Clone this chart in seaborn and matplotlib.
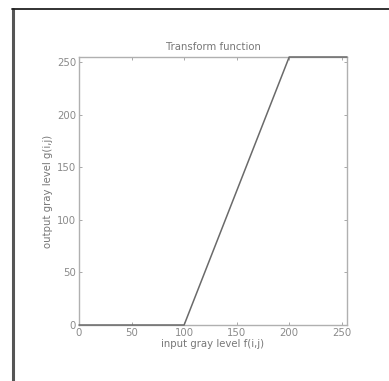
import matplotlib
matplotlib.use("Agg")
import matplotlib.pyplot as plt
from matplotlib.lines import Line2D
import seaborn as sns
import pandas as pd

input_level = [0, 100, 200, 255]
output_level = [0, 0, 255, 255]
ticks = [0, 50, 100, 150, 200, 250]

sns.set_theme(style="white")
plt.rcParams['font.family'] = ['DejaVu Sans']

W, H = 389, 381
fig = plt.figure(figsize=(W / 100, H / 100), dpi=100)
fig.patch.set_facecolor("white")
ax = fig.add_axes([79 / W, 1 - 325 / H, (347 - 79) / W, (325 - 57) / H])

df = pd.DataFrame({"x": input_level, "y": output_level})
sns.lineplot(data=df, x="x", y="y", ax=ax, color="#6a6a6a", linewidth=1.1)
for ln in ax.lines:
    ln.set_clip_on(False)
    ln.set_zorder(5)

ax.set_xlim(0, 255)
ax.set_ylim(0, 255)
ax.set_xticks(ticks)
ax.set_yticks(ticks)
ax.tick_params(direction="in", length=2, width=0.6, colors="#9a9a9a",
               labelsize=7.3, labelcolor="#8a8a8a", pad=2,
               top=True, right=True, bottom=True, left=True)
for s in ax.spines.values():
    s.set_color("#b0b0b0")
    s.set_linewidth(1.0)
ax.set_title("Transform function", fontsize=7.3, color="#777777", pad=5)
ax.set_xlabel("input gray level f(i,j)", fontsize=7.3, color="#777777", labelpad=1)
ax.set_ylabel("output gray level g(i,j)", fontsize=7.3, color="#777777", labelpad=3)

# screenshot frame
fig.add_artist(Line2D([13 / W, 13 / W], [0, 1 - 9 / H], transform=fig.transFigure,
                      color="#555555", linewidth=2.2))
fig.add_artist(Line2D([12 / W, 1], [1 - 9 / H, 1 - 9 / H], transform=fig.transFigure,
                      color="#222222", linewidth=1.3))

fig.savefig("out.png", dpi=100)
